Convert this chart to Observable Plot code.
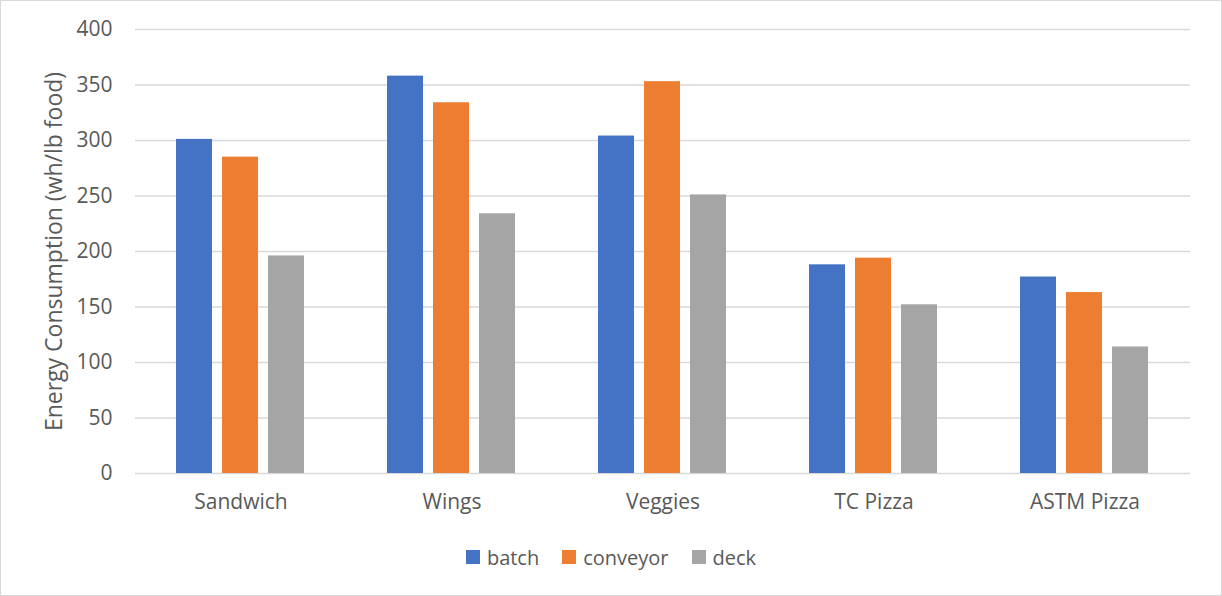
<!DOCTYPE html>
<html>
<head>
<meta charset="utf-8">
<script src="https://cdn.jsdelivr.net/npm/d3@7"></script>
<script src="https://cdn.jsdelivr.net/npm/@observablehq/plot@0.6"></script>
<style>
  html, body { margin: 0; padding: 0; background: #fff; }
  #wrap { position: relative; width: 1222px; height: 596px; overflow: hidden; background: #fff; }
  #wrap::after { content: ""; position: absolute; inset: 0; border: 1px solid #d9d9d9; pointer-events: none; }
  #legend { display: flex; justify-content: center; align-items: center; height: 54px;
    font-family: "Open Sans", sans-serif; font-size: 20px; color: #595959; gap: 23px; }
  #legend .item { display: flex; align-items: center; gap: 7px; }
  #legend .sw { width: 14px; height: 14px; display: inline-block; }
</style>
</head>
<body>
<div id="wrap">
  <div id="chart"></div>
  <div id="legend"></div>
</div>
<script>
const categories = ["Sandwich", "Wings", "Veggies", "TC Pizza", "ASTM Pizza"];
const series = ["batch", "conveyor", "deck"];
const batch = [301, 358, 304, 188, 177];
const conveyor = [285, 334, 353, 194, 163];
const deck = [196, 234, 251, 152, 114];
const yTicks = [0, 50, 100, 150, 200, 250, 300, 350, 400];
const colors = ["#4472C4", "#ED7D31", "#A5A5A5"];
const yLabel = "Energy Consumption (wh/lb food)";

const seriesValues = {batch, conveyor, deck};
const data = categories.flatMap((c, i) => series.map(s => ({category: c, series: s, value: seriesValues[s][i]})));

const chart = Plot.plot({
  width: 1222,
  height: 530,
  marginLeft: 133,
  marginRight: 30,
  marginTop: 29,
  marginBottom: 57,
  style: {fontFamily: "'Open Sans', sans-serif", fontSize: "21px", color: "#595959", background: "transparent", overflow: "visible"},
  fx: {domain: categories, padding: 0, label: null},
  x: {domain: series, paddingInner: 0.213, paddingOuter: 0.86, axis: null},
  y: {domain: [0, 400]},
  color: {domain: series, range: colors},
  marks: [
    Plot.gridY(yTicks, {stroke: "#d9d9d9", strokeOpacity: 1, strokeWidth: 1.3}),
    Plot.barY(data, {fx: "category", x: "series", y: "value", fill: "series"}),
    Plot.axisY(yTicks, {tickSize: 0, tickPadding: 23, fontSize: 21, label: null}),
    Plot.text([yLabel], {fx: () => categories[0], text: d => d, frameAnchor: "left", textAnchor: "middle", lineAnchor: "middle", rotate: -90, dx: -81, fontSize: 23, fill: "#595959"}),
    Plot.axisFx({anchor: "bottom", tickSize: 0, tickPadding: 21, fontSize: 21, label: null})
  ]
});
document.getElementById("chart").appendChild(chart);

const legend = document.getElementById("legend");
series.forEach((s, i) => {
  const item = document.createElement("span");
  item.className = "item";
  const sw = document.createElement("span");
  sw.className = "sw";
  sw.style.background = colors[i];
  const t = document.createElement("span");
  t.textContent = s;
  item.appendChild(sw);
  item.appendChild(t);
  legend.appendChild(item);
});
</script>
</body>
</html>
